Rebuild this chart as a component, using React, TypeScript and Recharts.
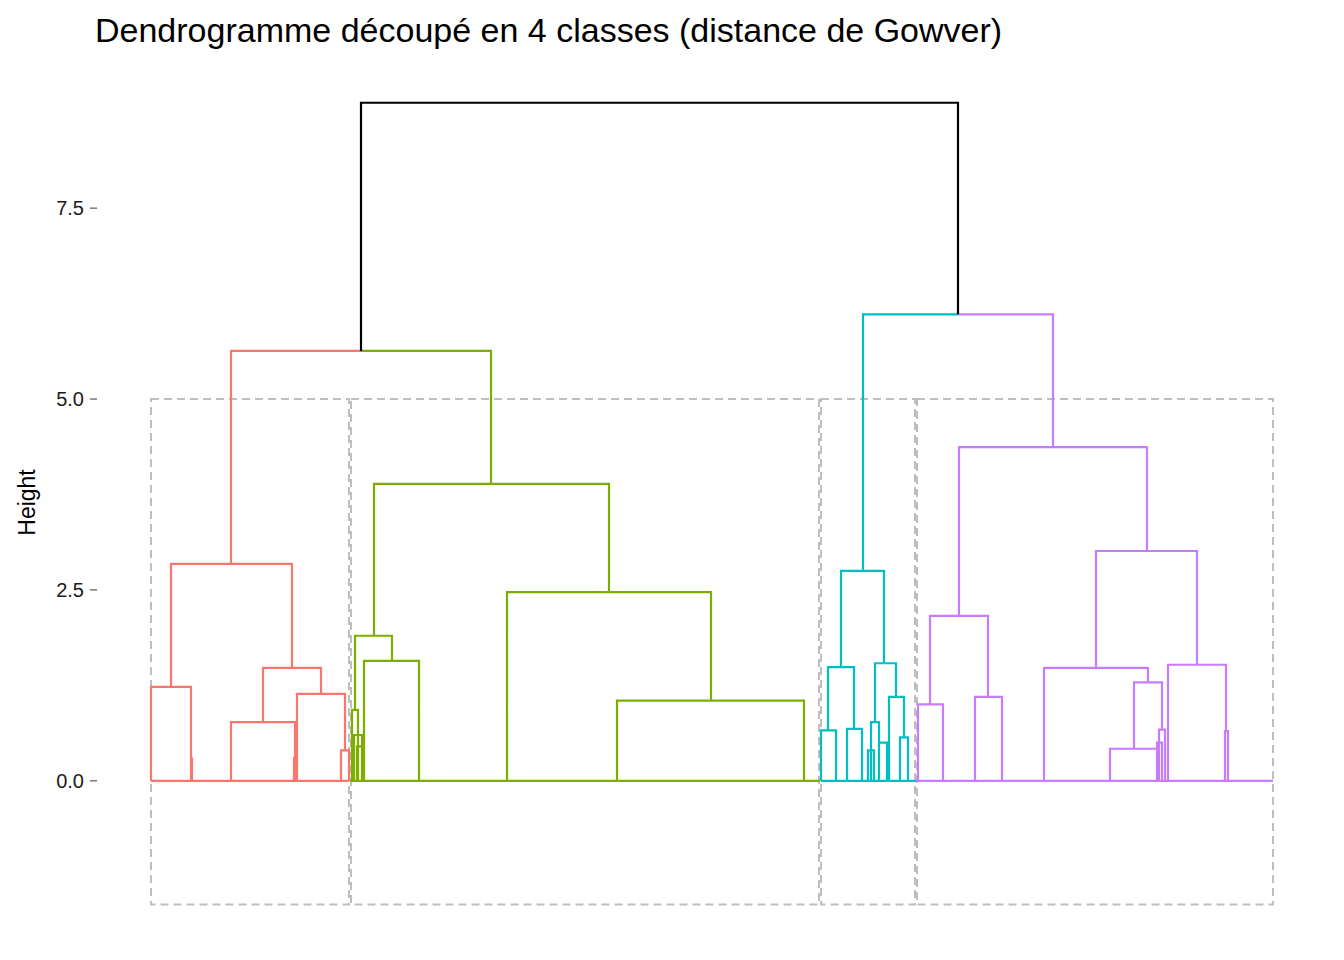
import { ComposedChart, Line, XAxis, YAxis, ReferenceArea } from "recharts";

// merges: [xLeft, hLeft, xRight, hRight, hMerge]
type Merge = [number, number, number, number, number];

const redMerges: Merge[] = [
  [151, 0, 191, 0, 1.23],
  [191, 0, 192, 0, 0.29],
  [231, 0, 295, 0, 0.77],
  [294, 0, 296, 0, 0.3],
  [341, 0, 349, 0, 0.4],
  [297, 0, 345, 0.4, 1.14],
  [263, 0.77, 321, 1.14, 1.48],
  [171, 1.23, 292, 1.48, 2.84],
];
const greenMerges: Merge[] = [
  [352, 0, 358, 0, 0.93],
  [354, 0, 362, 0, 0.6],
  [357, 0, 364, 0, 0.45],
  [364, 0, 419, 0, 1.57],
  [355, 0.93, 392, 1.57, 1.9],
  [617, 0, 804, 0, 1.05],
  [507, 0, 711, 1.05, 2.47],
  [374, 1.9, 609, 2.47, 3.89],
];
const cyanMerges: Merge[] = [
  [821, 0, 836, 0, 0.66],
  [847, 0, 862, 0, 0.68],
  [828, 0.66, 854, 0.68, 1.49],
  [871, 0, 879, 0, 0.77],
  [868, 0, 874, 0, 0.4],
  [879, 0, 887, 0, 0.5],
  [900, 0, 908, 0, 0.57],
  [889, 0, 904, 0.57, 1.1],
  [875, 0.77, 896, 1.1, 1.54],
  [841, 1.49, 884, 1.54, 2.75],
];
const purpleMerges: Merge[] = [
  [918, 0, 943, 0, 1.0],
  [975, 0, 1002, 0, 1.1],
  [930, 1.0, 988, 1.1, 2.16],
  [1110, 0, 1157, 0, 0.42],
  [1159, 0, 1165, 0, 0.67],
  [1157, 0, 1162, 0, 0.5],
  [1134, 0.42, 1162, 0.67, 1.29],
  [1044, 0, 1148, 1.29, 1.48],
  [1225, 0, 1228, 0, 0.65],
  [1168, 0, 1226, 0.65, 1.52],
  [1096, 1.48, 1197, 1.52, 3.01],
  [959, 2.16, 1147, 3.01, 4.37],
];

// top-level merges, each half in its branch colour: [xChild, hChild, xMid, hMerge]
const redTop = [231, 2.84, 361, 5.63];
const greenTop = [491, 3.89, 361, 5.63];
const cyanTop = [863, 2.75, 958, 6.11];
const purpleTop = [1053, 4.37, 958, 6.11];
const rootMerge: Merge = [361, 5.63, 958, 6.11, 8.88];

// baselines at height 0: [xStart, xEnd]
const redBase = [151, 349];
const greenBase = [350, 820];
const cyanBase = [821, 916];
const purpleBase = [916, 1273];

// cluster rectangles: [x1, x2]
const boxes = [
  [151, 349],
  [351, 819],
  [821, 915],
  [917, 1273],
];
const boxBottom = -1.62;
const boxTop = 5.0;

const yTicks = [0, 2.5, 5, 7.5];

type Pt = { x: number; y: number | null };

function build(merges: Merge[], top: number[] | null, base: number[]): Pt[] {
  const pts: Pt[] = [];
  const brk = (x: number) => pts.push({ x, y: null });
  pts.push({ x: base[0], y: 0 }, { x: base[1], y: 0 });
  brk(base[1]);
  for (const [xl, hl, xr, hr, h] of merges) {
    pts.push({ x: xl, y: hl }, { x: xl, y: h }, { x: xr, y: h }, { x: xr, y: hr });
    brk(xr);
  }
  if (top) {
    const [xc, hc, xm, hm] = top;
    pts.push({ x: xc, y: hc }, { x: xc, y: hm }, { x: xm, y: hm });
  }
  return pts;
}

const series = [
  { color: "#F8766D", data: build(redMerges, redTop, redBase) },
  { color: "#7CAE00", data: build(greenMerges, greenTop, greenBase) },
  { color: "#00BFC4", data: build(cyanMerges, cyanTop, cyanBase) },
  { color: "#C77CFF", data: build(purpleMerges, purpleTop, purpleBase) },
  { color: "#000000", data: build([rootMerge], null, [361, 361]).slice(3) },
];

export default function App() {
  return (
    <div style={{ position: "relative", width: 1336, height: 952, background: "#fff" }}>
      <div
        style={{
          position: "absolute",
          left: 87,
          top: 3,
          fontFamily: "Liberation Sans, Arial, sans-serif",
          fontSize: 34,
          color: "#000",
        }}
      >
        Dendrogramme découpé en 4 classes (distance de Gowver)
      </div>
      <ComposedChart width={1336} height={952} margin={{ top: 52, right: 16, bottom: 15, left: 9 }}>
        <XAxis type="number" dataKey="x" domain={[97, 1328]} hide allowDuplicatedCategory={false} />
        <YAxis
          type="number"
          domain={[-2.15, 9.44]}
          ticks={yTicks}
          width={80}
          axisLine={false}
          tickSize={7}
          tickMargin={6}
          tickLine={{ stroke: "#333" }}
          tickFormatter={(v: number) => v.toFixed(1)}
          tick={{ fontSize: 20, fill: "#1a1a1a", fontFamily: "Liberation Sans, Arial, sans-serif" }}
          label={{
            value: "Height",
            angle: -90,
            position: "insideLeft",
            offset: 10,
            style: { fontSize: 23, fill: "#000", fontFamily: "Liberation Sans, Arial, sans-serif", textAnchor: "middle" },
          }}
        />
        {boxes.map(([x1, x2], i) => (
          <ReferenceArea
            key={i}
            x1={x1}
            x2={x2}
            y1={boxBottom}
            y2={boxTop}
            fill="none"
            fillOpacity={0}
            stroke="#BEBEBE"
            strokeWidth={2}
            strokeDasharray="8 5"
            ifOverflow="visible"
          />
        ))}
        {series.map((s, i) => (
          <Line
            key={i}
            data={s.data}
            dataKey="y"
            type="linear"
            stroke={s.color}
            strokeWidth={2.2}
            dot={false}
            activeDot={false}
            connectNulls={false}
            isAnimationActive={false}
          />
        ))}
      </ComposedChart>
    </div>
  );
}
